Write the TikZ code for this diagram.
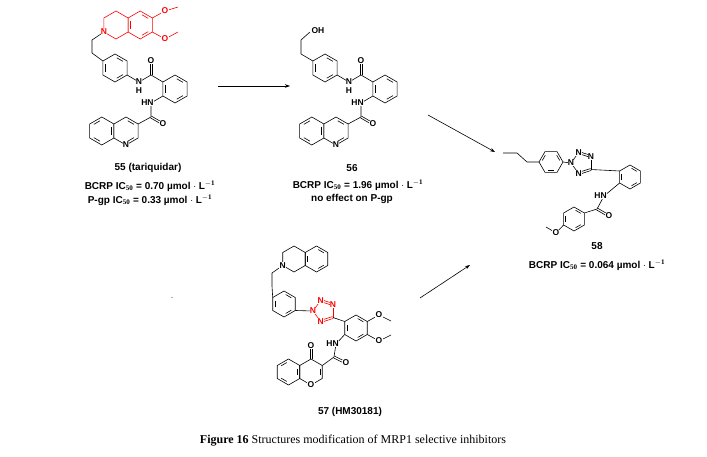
\documentclass[tikz,border=0pt]{standalone}
\usepackage{fontspec}
\setmainfont{Liberation Serif}
\newfontfamily\sansf{Liberation Sans}
\usetikzlibrary{arrows.meta,calc}
\newcommand\hexP[4][]{\draw[#1] (#2,#3) +(30:#4) -- +(90:#4) -- +(150:#4) -- +(210:#4) -- +(270:#4) -- +(330:#4) -- cycle;}
\newcommand\hexF[4][]{\draw[#1] (#2,#3) +(0:#4) -- +(60:#4) -- +(120:#4) -- +(180:#4) -- +(240:#4) -- +(300:#4) -- cycle;}
\newcommand\inb[5][]{\foreach \a in {#5} {\draw[#1] (#2,#3) +(\a+10:0.74*#4) -- +(\a+50:0.74*#4);}}
\newcommand\dbond[5][]{\draw[#1] ($(#2,#3)!1pt!90:(#4,#5)$) -- ($(#4,#5)!1pt!-90:(#2,#3)$);
 \draw[#1] ($(#2,#3)!1pt!-90:(#4,#5)$) -- ($(#4,#5)!1pt!90:(#2,#3)$);}
\newcommand\tailpart[2]{%
\begin{scope}[xshift=#1]
\hexP{115}{68}{14} \inb{115}{68}{14}{270,30,150}
\draw (127.1,75) -- (139,82) -- (151,75) -- (162.9,82);
\dbond{151}{75}{151}{61}
\hexP{175}{89}{14} \inb{175}{89}{14}{270,30,150}
\draw (162.9,96) -- (151,103) -- (151,117) -- (138.1,124);
\dbond{151}{117}{163}{124}
\hexP{126}{131}{14} \inb{126}{131}{14}{270,30}
\hexP{101.8}{131}{14} \inb{101.8}{131}{14}{90,210,330}
\node[atom] (#2n1) at (139,82) {N};
\node[atom] (#2h1) at (139,91) {H};
\node[atom] (#2n2) at (147.5,103) {HN};
\node[atom] (#2o1) at (151,61) {O};
\node[atom] (#2o2) at (163,124) {O};
\node[atom] (#2nq) at (126,145) {N};
\end{scope}}
\begin{document}
\begin{tikzpicture}[x=1pt,y=-1pt,line width=0.6pt,
 atom/.style={font=\sansf\bfseries\fontsize{8.5}{9}\selectfont,inner sep=0.3pt,fill=white},
 lab/.style={font=\sansf\bfseries\fontsize{10}{11}\selectfont,inner sep=0,align=center},
 arr/.style={-{Stealth[length=5pt,width=3.5pt]},line width=0.6pt}]
\useasboundingbox (0,0) rectangle (707,457);

% ---------- 55 ----------
\hexP[red]{116}{25}{14}
\hexP[red]{140.2}{25}{14} \inb[red]{140.2}{25}{14}{270,30,150}
\draw[red] (152.3,18) -- (165,11) -- (178,7);
\draw[red] (152.3,32) -- (165,39) -- (178,32);
\draw (103.9,32) -- (92,40) -- (92,53) -- (102.9,61);
\node[atom,text=red] (a55n) at (103.9,32) {N};
\node[atom,text=red] (a55o1) at (165,11) {O};
\node[atom,text=red] (a55o2) at (165,39) {O};
\tailpart{0}{a}
\node[lab] (l55) at (148,168) {55 (tariquidar)};
\node[lab] (l55b) at (150,186) {BCRP IC$_{\mathbf{50}}$ = 0.70 \textmu mol $\cdot$ L$^{\mathbf{-1}}$};
\node[lab] (l55c) at (150,200) {P-gp IC$_{\mathbf{50}}$ = 0.33 \textmu mol $\cdot$ L$^{\mathbf{-1}}$};

% ---------- 56 ----------
\draw (312.9,61) -- (301,54) -- (301,40) -- (310,32);
\node[atom] (b56oh) at (318,31) {OH};
\tailpart{210}{b}
\node[lab] (l56) at (352,168) {56};
\node[lab] (l56b) at (358,185) {BCRP IC$_{\mathbf{50}}$ = 1.96 \textmu mol $\cdot$ L$^{\mathbf{-1}}$};
\node[lab] (l56c) at (352,199) {no effect on P-gp};

% ---------- 58 ----------
\draw (503,153) -- (517,153) -- (527,162) -- (539,162);
\hexF{551}{162}{12} \inb{551}{162}{12}{60,180,300}
\draw (563,162) -- (571,163);
\draw (571,163) -- (578.6,152.5);
\dbond{578.6}{152.5}{590.9}{156.5}
\draw (590.9,156.5) -- (590.9,169.5);
\dbond{590.9}{169.5}{578.6}{173.5}
\draw (578.6,173.5) -- (571,163);
\draw (590.9,169.5) -- (619.6,171);
\hexP{630}{177}{12} \inb{630}{177}{12}{270,30,150}
\draw (619.6,183) -- (604,196) -- (597,209) -- (584.4,213);
\dbond{597}{209}{609}{216}
\hexP{574}{219}{12} \inb{574}{219}{12}{270,30,150}
\draw (563.6,225) -- (556,233) -- (546,227);
\node[atom] (c58n2) at (571,163) {N};
\node[atom] (c58n3) at (578.6,152.5) {N};
\node[atom] (c58n4) at (590.9,156.5) {N};
\node[atom] (c58n1) at (578.6,173.5) {N};
\node[atom] (c58nh) at (600.5,196) {HN};
\node[atom] (c58o) at (609,216) {O};
\node[atom] (c58om) at (556,233) {O};
\node[lab] (l58) at (597,246) {58};
\node[lab] (l58b) at (597,265) {BCRP IC$_{\mathbf{50}}$ = 0.064 \textmu mol $\cdot$ L$^{\mathbf{-1}}$};

% ---------- 57 ----------
\hexP{294}{259}{13}
\hexP{316.5}{259}{13} \inb{316.5}{259}{13}{270,30,150}
\draw (282.7,265.5) -- (272,273) -- (272,286) -- (272.7,297.5);
\hexP{284}{304}{13} \inb{284}{304}{13}{270,30,150}
\draw (295.3,310.5) -- (313,311);
\draw[red] (313,311) -- (320.6,300.5);
\dbond[red]{320.6}{300.5}{332.9}{304.5}
\draw[red] (332.9,304.5) -- (332.9,317.5);
\dbond[red]{332.9}{317.5}{320.6}{321.5}
\draw[red] (320.6,321.5) -- (313,311);
\draw (332.9,317.5) -- (344.7,321.5);
\hexP{356}{328}{13} \inb{356}{328}{13}{270,30,150}
\draw (367.3,321.5) -- (379,315) -- (391,321);
\draw (367.3,334.5) -- (379,341) -- (391,335);
\draw (344.7,334.5) -- (336,344) -- (334,357) -- (322.3,365.5);
\dbond{334}{357}{346}{363}
\hexP{311}{372}{13} \inb{311}{372}{13}{330}
\dbond{311}{359}{311}{346}
\hexP{288.5}{372}{13} \inb{288.5}{372}{13}{90,210,330}
\node[atom] (d57n) at (282.7,265.5) {N};
\node[atom,text=red] (d57n2) at (313,311) {N};
\node[atom,text=red] (d57n3) at (320.6,300.5) {N};
\node[atom,text=red] (d57n4) at (332.9,304.5) {N};
\node[atom,text=red] (d57n1) at (320.6,321.5) {N};
\node[atom] (d57o1) at (379,315) {O};
\node[atom] (d57o2) at (379,341) {O};
\node[atom] (d57nh) at (332.5,344) {HN};
\node[atom] (d57o3) at (346,363) {O};
\node[atom] (d57o4) at (311,346) {O};
\node[atom] (d57o5) at (311,385) {O};
\node[lab] (l57) at (350,412) {57 (HM30181)};

\node[inner sep=0,font=\fontsize{8}{8}\selectfont] (dot) at (172,298) {.};

% ---------- arrows ----------
\coordinate (a1s) at (218,86); \coordinate (a1e) at (290,86);
\coordinate (a2s) at (428,115); \coordinate (a2e) at (495,152);
\coordinate (a3s) at (420,298); \coordinate (a3e) at (470,265);
\draw[arr] (a1s) -- (a1e);
\draw[arr] (a2s) -- (a2e);
\draw[arr] (a3s) -- (a3e);

\node[font=\fontsize{12}{14}\selectfont,inner sep=0] (cap) at (353,441) {\textbf{Figure 16} Structures modification of MRP1 selective inhibitors};
\end{tikzpicture}
\end{document}
